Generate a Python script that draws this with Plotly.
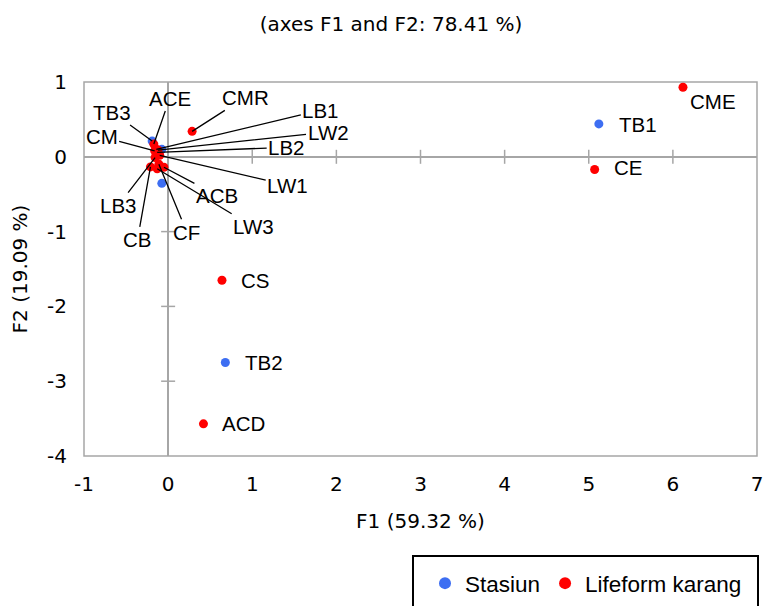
import plotly.graph_objects as go

# ---------------- data ----------------
station_names = ["TB1", "TB2", "TB3", "", ""]
station_f1 = [5.12, 0.68, -0.19, -0.075, -0.075]
station_f2 = [0.44, -2.75, 0.21, 0.10, -0.355]

lifeform_names = ["CME", "CE", "CMR", "CS", "ACD", "ACE", "CM", "LB1", "LW2", "LB2",
                  "LW1", "ACB", "LW3", "CF", "CB", "LB3"]
lifeform_f1 = [6.12, 5.07, 0.285, 0.64, 0.42, -0.17, -0.16, -0.14, -0.12, -0.13,
               -0.10, -0.05, -0.13, -0.11, -0.21, -0.155]
lifeform_f2 = [0.93, -0.17, 0.34, -1.65, -3.57, 0.17, 0.08, 0.10, 0.09, 0.06,
               0.02, -0.14, -0.16, -0.10, -0.135, -0.01]

x_ticks = [-1, 0, 1, 2, 3, 4, 5, 6, 7]
x_tick_labels = ["-1", "0", "1", "2", "3", "4", "5", "6", "7"]
y_ticks = [1, 0, -1, -2, -3, -4]
y_tick_labels = ["1", "0", "-1", "-2", "-3", "-4"]

# label placement (pixel offsets of label centre from its point; leader = draw line)
station_label_offsets = {"TB1": (39, 1, False), "TB2": (39, 0, False), "TB3": (-40, -29, True)}
lifeform_label_offsets = {
    "CME": (30, 14, False), "CE": (33, -2, False), "CMR": (53, -34, True),
    "CS": (33, 0, False), "ACD": (40, 0, False),
    "ACE": (16, -46, True), "CM": (-53, -14, True), "LB1": (164, -39, True),
    "LW2": (170, -18, True), "LB2": (129, -5, True), "LW1": (128, 30, True),
    "ACB": (53, 28, True), "LW3": (96, 58, True), "CF": (28, 68, True),
    "CB": (-13, 73, True), "LB3": (-37, 48, True),
}

BLUE = "#3d6ef2"
RED = "#ff0000"
GRID = "#a6a6a6"
AXFONT = "DejaVu Sans"
LBLFONT = "Liberation Sans, Arial, sans-serif"

fig = go.Figure()
fig.add_trace(go.Scatter(x=station_f1, y=station_f2, mode="markers", name="Stasiun",
                         marker=dict(color=BLUE, size=9), cliponaxis=False))
fig.add_trace(go.Scatter(x=lifeform_f1, y=lifeform_f2, mode="markers", name="Lifeform karang",
                         marker=dict(color=RED, size=9), cliponaxis=False))

annotations = []
def add_labels(names, xs, ys, offsets):
    for n, x, y in zip(names, xs, ys):
        if not n or n not in offsets:
            continue
        dx, dy, leader = offsets[n]
        if leader:
            annotations.append(dict(x=x, y=y, xref="x", yref="y", text=n, showarrow=True,
                                    ax=dx, ay=dy, arrowhead=0, arrowwidth=1.3, arrowcolor="black",
                                    standoff=0, startstandoff=0,
                                    font=dict(family=LBLFONT, size=20.5, color="black")))
        else:
            annotations.append(dict(x=x, y=y, xref="x", yref="y", text=n, showarrow=False,
                                    xshift=dx, yshift=-dy,
                                    font=dict(family=LBLFONT, size=20.5, color="black")))

add_labels(station_names, station_f1, station_f2, station_label_offsets)
add_labels(lifeform_names, lifeform_f1, lifeform_f2, lifeform_label_offsets)

shapes = []
# plot border
shapes.append(dict(type="rect", xref="paper", yref="paper", x0=0, y0=0, x1=1, y1=1,
                   line=dict(color=GRID, width=1.5), layer="below"))
# cross ticks on zero lines
for t in x_ticks:
    if t in (0, -1, 7):
        continue
    shapes.append(dict(type="line", xref="x", yref="y", ysizemode="pixel", yanchor=0,
                       x0=t, x1=t, y0=-7, y1=7, line=dict(color=GRID, width=1.5), layer="below"))
for t in y_ticks:
    if t in (0, 1, -4):
        continue
    shapes.append(dict(type="line", xref="x", yref="y", xsizemode="pixel", xanchor=0,
                       y0=t, y1=t, x0=-7, x1=7, line=dict(color=GRID, width=1.5), layer="below"))
# legend frame
shapes.append(dict(type="rect", xref="paper", yref="paper",
                   x0=(413 - 84) / 673, x1=(758 - 84) / 673,
                   y0=(456 - 625) / 374, y1=(456 - 556) / 374,
                   line=dict(color="black", width=2)))

fig.update_layout(
    width=763, height=606,
    margin=dict(l=84, r=6, t=82, b=150, autoexpand=False),
    paper_bgcolor="white", plot_bgcolor="white",
    title=dict(text="(axes F1 and F2: 78.41 %)", x=391 / 763, xanchor="center",
               y=1 - 24 / 606, yanchor="middle", yref="container",
               font=dict(family=AXFONT, size=20, color="black")),
    xaxis=dict(range=[-1, 7], tickvals=x_ticks, ticktext=x_tick_labels,
               showgrid=False, showline=False, automargin=False,
               zeroline=True, zerolinecolor=GRID, zerolinewidth=1.5,
               ticks="", ticklabelstandoff=14, ticklabeloverflow="allow",
               tickfont=dict(family=AXFONT, size=20, color="black"),
               title=dict(text="F1 (59.32 %)", standoff=18,
                          font=dict(family=AXFONT, size=20, color="black"))),
    yaxis=dict(range=[-4, 1], tickvals=y_ticks, ticktext=y_tick_labels,
               showgrid=False, showline=False, automargin=False,
               zeroline=True, zerolinecolor=GRID, zerolinewidth=1.5,
               ticks="", ticklabelstandoff=16, ticklabeloverflow="allow",
               tickfont=dict(family=AXFONT, size=20, color="black"),
               title=dict(text="F2 (19.09 %)", standoff=14,
                          font=dict(family=AXFONT, size=20, color="black"))),
    showlegend=True,
    legend=dict(orientation="h", x=(425 - 84) / 673, xanchor="left",
                y=(456 - 562) / 374, yanchor="top",
                font=dict(family=LBLFONT, size=22.5, color="black"),
                bgcolor="rgba(0,0,0,0)", borderwidth=0, itemsizing="constant"),
    annotations=annotations,
    shapes=shapes,
)

fig.write_html("out.html", config={"displayModeBar": False},
               post_script="document.body.style.margin='0px';document.body.style.overflow='hidden';")
